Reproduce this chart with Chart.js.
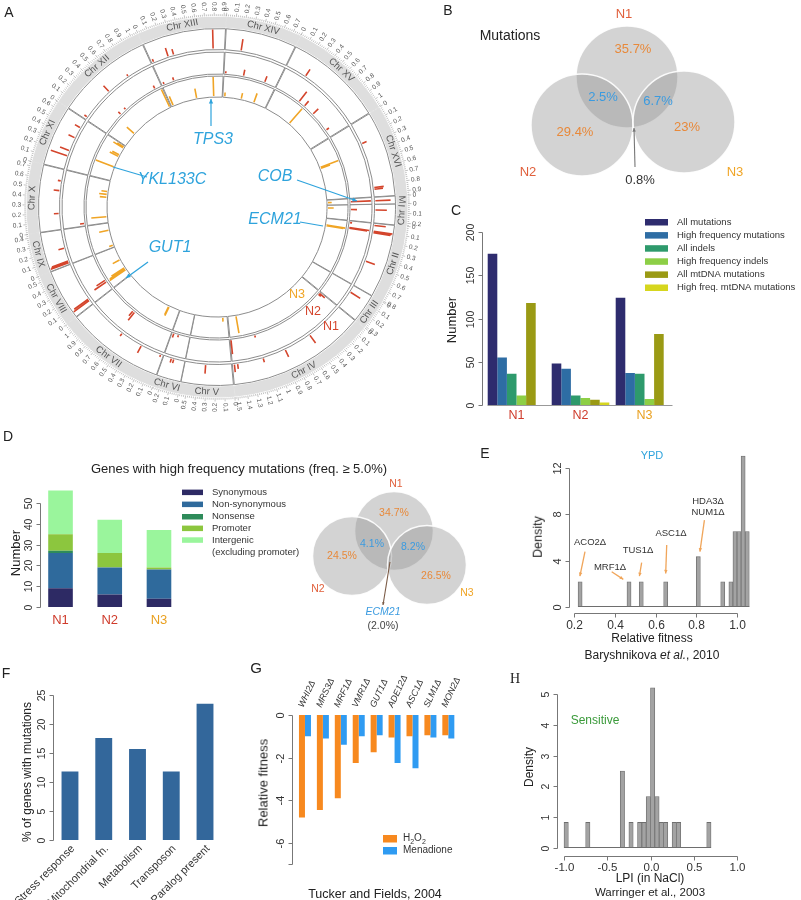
<!DOCTYPE html>
<html>
<head>
<meta charset="utf-8">
<script src="https://cdn.jsdelivr.net/npm/chart.js@4.4.1/dist/chart.umd.min.js"></script>
<style>
  html, body { margin: 0; padding: 0; background: #fff; }
  #fig { position: relative; width: 801px; height: 900px; overflow: hidden;
         font-family: "Liberation Sans", Arial, Helvetica, sans-serif; color: #222; }
  #fig canvas { position: absolute; }
  .t { position: absolute; white-space: nowrap; line-height: 1; transform: translate(-50%, -50%); }
</style>
</head>
<body>
<div id="fig"></div>
<script>
// ---------- panel A: circos ----------
const chrNames = ['I','II','III','IV','V','VI','VII','VIII','IX','X','XI','XII','XIII','XIV','XV','XVI','M'];
const chrLengthsMb = [0.230, 0.813, 0.317, 1.532, 0.577, 0.270, 1.091, 0.563, 0.440, 0.746, 0.667, 1.078, 0.924, 0.784, 1.091, 0.948, 0.086];

// [chromosome, position (Mb), allele frequency]
const n1Spikes = [
  ['I',0.07,0.6], ['II',0.03,0.6], ['II',0.10,1.0], ['II',0.11,0.95], ['II',0.12,0.9], ['II',0.48,0.5],
  ['III',0.09,0.6], ['IV',0.50,0.5], ['IV',0.85,0.4], ['IV',1.14,0.2], ['IV',1.46,0.25], ['IV',1.50,0.4],
  ['V',0.32,0.45], ['VI',0.14,0.2], ['VI',0.17,0.2], ['VII',0.04,0.1], ['VII',0.30,0.4], ['VII',0.58,0.15],
  ['VIII',0.06,1.0], ['VIII',0.08,0.9], ['IX',0.025,1.0], ['IX',0.035,0.95], ['IX',0.045,0.9], ['IX',0.21,0.3],
  ['X',0.20,0.25], ['X',0.48,0.3], ['X',0.60,0.15], ['XI',0.17,0.9], ['XI',0.24,0.5], ['XI',0.41,0.35],
  ['XI',0.55,0.3], ['XII',0.04,0.15], ['XII',0.45,0.4], ['XII',0.75,0.1], ['XIII',0.03,0.15], ['XIII',0.22,0.45],
  ['XIII',0.29,0.3], ['XIII',0.78,1.0], ['XIV',0.20,0.6], ['XV',0.27,0.4], ['XVI',0.27,0.25], ['XVI',0.83,0.5],
  ['XVI',0.85,0.45], ['M',0.043,0.8]
];
const n2Spikes = [
  ['I',0.07,0.3], ['II',0.03,0.1], ['II',0.10,1.0], ['II',0.11,0.9], ['IV',0.03,0.35], ['IV',0.05,0.15],
  ['IV',1.16,0.1], ['IV',1.51,0.7], ['VI',0.17,0.1], ['VI',0.24,0.2], ['VII',0.62,0.5], ['VII',0.65,0.3],
  ['VIII',0.13,0.7], ['VIII',0.16,0.5], ['X',0.04,0.2], ['XII',0.35,0.15], ['XII',0.45,0.1], ['XII',0.97,0.15],
  ['XIII',0.04,0.1], ['XIII',0.19,0.15], ['XIV',0.03,0.1], ['XIV',0.29,0.3], ['XIV',0.61,0.3], ['XV',0.40,0.6],
  ['XV',0.50,0.3], ['XV',0.67,0.35], ['XV',0.97,0.15], ['M',0.043,1.0]
];
const n3Spikes = [
  ['I',0.05,0.3], ['II',0.12,1.0], ['II',0.13,0.9], ['IV',1.38,0.9], ['V',0.08,0.2], ['VII',0.20,0.5],
  ['VII',0.21,0.45], ['VIII',0.12,1.0], ['VIII',0.14,0.95], ['VIII',0.16,0.8], ['VIII',0.32,0.4], ['IX',0.04,0.2],
  ['IX',0.31,0.5], ['X',0.11,0.8], ['X',0.45,0.35], ['X',0.50,0.4], ['X',0.55,0.3], ['XI',0.25,1.0],
  ['XI',0.45,0.5], ['XI',0.48,0.4], ['XI',0.62,0.6], ['XI',0.64,0.4], ['XII',0.27,0.5], ['XII',1.05,1.0],
  ['XIII',0.04,0.5], ['XIII',0.47,0.5], ['XIII',0.77,1.0], ['XIV',0.04,0.2], ['XIV',0.33,0.3], ['XIV',0.56,0.5],
  ['XV',0.50,1.0], ['XVI',0.36,1.0], ['XVI',0.38,0.5], ['M',0.043,0.2]
];

// ---------- panel B / D venn labels ----------
const vennMutationPct = ['35.7%', '29.4%', '23%', '2.5%', '6.7%', '0.8%'];
const vennGenePct = ['34.7%', '24.5%', '26.5%', '4.1%', '8.2%', '(2.0%)'];

// ---------- panel C ----------
const strains = ['N1', 'N2', 'N3'];
const allMutations = [175, 48, 124];
const highFreqMutations = [55, 42, 37];
const allIndels = [36, 11, 36];
const highFreqIndels = [11, 8, 7];
const allMtDNA = [118, 6, 82];
const highFreqMtDNA = [0, 3, 0];
const numberTicksC = [0, 50, 100, 150, 200];

// ---------- panel D ----------
const synonymous = [9, 6, 4];
const nonSynonymous = [17, 13, 14];
const nonsense = [1, 0, 0];
const promoter = [8, 7, 1];
const intergenic = [21, 16, 18];
const numberTicksD = [0, 10, 20, 30, 40, 50];

// ---------- panel E ----------
const fitnessBinMid = [0.23,0.25,0.27,0.29,0.31,0.33,0.35,0.37,0.39,0.41,0.43,0.45,0.47,0.49,0.51,0.53,0.55,0.57,0.59,0.61,0.63,
  0.65,0.67,0.69,0.71,0.73,0.75,0.77,0.79,0.81,0.83,0.85,0.87,0.89,0.91,0.93,0.95,0.97,0.99,1.01,1.03,1.05];
const fitnessDensity = [2.17,0,0,0,0,0,0,0,0,0,0,0, 2.17,0,0,2.17,0,0,0,0,0, 2.17,0,0,0,0,0,0,0,
  4.35,0,0,0,0,0, 2.17,0,2.17,6.52,6.52,13.04,6.52];
const fitnessTicksE = [0.2, 0.4, 0.6, 0.8, 1.0];
const densityTicksE = [0, 4, 8, 12];

// ---------- panel F ----------
const functionCats = ['Stress response', 'Mitochondrial fn.', 'Metabolism', 'Transposon', 'Paralog present'];
const pctWithMutations = [11.8, 17.6, 15.7, 11.8, 23.5];
const pctTicks = [0, 5, 10, 15, 20, 25];

// ---------- panel G ----------
const deletions = ['WHI2Δ','MRS3Δ','MRF1Δ','VMR1Δ','GUT1Δ','ADE12Δ','ASC1Δ','SLM1Δ','MON2Δ'];
const h2o2Fitness = [-4.8, -4.45, -3.9, -2.25, -1.75, -1.05, -1.0, -0.95, -0.95];
const menadioneFitness = [-1.0, -1.1, -1.4, -1.0, -0.95, -2.25, -2.5, -1.05, -1.1];
const fitnessTicksG = [0, -2, -4, -6, -7];
const fitnessTickLabelsG = ['0', '-2', '-4', '-6', ''];

// ---------- panel H ----------
const lpiBinMid = [-0.975,-0.925,-0.875,-0.825,-0.775,-0.725,-0.675,-0.625,-0.575,-0.525,-0.475,-0.425,-0.375,-0.325,
  -0.275,-0.225,-0.175,-0.125,-0.075,-0.025,0.025,0.075,0.125,0.175,0.225,0.275,0.325,0.375,0.425,0.475,0.525,0.575,0.625,0.675];
const lpiDensity = [0.83,0,0,0,0,0.83,0,0,0,0,0,0,0,2.5,0,0.83,0,0.83,0.83,1.67,5.2,1.67,0.83,0.83,0,0.83,0.83,0,0,0,0,0,0,0.83];
const lpiTicks = [-1, -0.5, 0, 0.5, 1];
const densityTicksH = [0, 1, 2, 3, 4, 5];

// ---------------------------------------------------------------
const FONT = '"Liberation Sans", Arial, Helvetica, sans-serif';
const RED = '#d4452c', ORANGE = '#f0a526', BLUE = '#2ea3dc';
const strainColors = ['#cf3b2b', '#cf3b2b', '#e9a020'];
const fig = document.getElementById('fig');

function makeCanvas(left, top, w, h) {
  const c = document.createElement('canvas');
  c.width = w; c.height = h;
  c.style.left = left + 'px'; c.style.top = top + 'px';
  c.style.width = w + 'px'; c.style.height = h + 'px';
  fig.appendChild(c);
  return c;
}

function addText(html, x, y, size, o = {}) {
  const d = document.createElement('div');
  d.className = 't';
  d.innerHTML = html;
  d.style.left = x + 'px'; d.style.top = y + 'px';
  d.style.fontSize = size + 'px';
  if (o.color) d.style.color = o.color;
  if (o.italic) d.style.fontStyle = 'italic';
  if (o.serif) d.style.fontFamily = '"Liberation Serif", "DejaVu Serif", serif';
  if (o.rot) d.style.transform = 'translate(-50%, -50%) rotate(-90deg)';
  fig.appendChild(d);
}

function txt(ctx, s, x, y, font, color, align = 'center', base = 'middle', rot = 0) {
  ctx.save();
  ctx.translate(x, y);
  if (rot) ctx.rotate(rot);
  ctx.font = font; ctx.fillStyle = color;
  ctx.textAlign = align; ctx.textBaseline = base;
  ctx.fillText(s, 0, 0);
  ctx.restore();
}

function arrow(ctx, x1, y1, x2, y2, color, lw, head) {
  ctx.save();
  ctx.strokeStyle = color; ctx.fillStyle = color; ctx.lineWidth = lw;
  ctx.beginPath(); ctx.moveTo(x1, y1); ctx.lineTo(x2, y2); ctx.stroke();
  if (head) {
    const a = Math.atan2(y2 - y1, x2 - x1);
    ctx.beginPath();
    ctx.moveTo(x2, y2);
    ctx.lineTo(x2 - head * Math.cos(a - 0.45), y2 - head * Math.sin(a - 0.45));
    ctx.lineTo(x2 - head * Math.cos(a + 0.45), y2 - head * Math.sin(a + 0.45));
    ctx.closePath(); ctx.fill();
  }
  ctx.restore();
}

// R style axes, drawn from the chart's own scales
function yAxisR(chart, x, ticks, labels, size = 10.5) {
  const ctx = chart.ctx, sc = chart.scales.y;
  const ys = ticks.map(v => Math.round(sc.getPixelForValue(v)) + 0.5);
  const xx = Math.round(x) + 0.5;
  ctx.save();
  ctx.strokeStyle = '#777'; ctx.lineWidth = 1;
  ctx.beginPath();
  ctx.moveTo(xx, Math.min(...ys)); ctx.lineTo(xx, Math.max(...ys));
  ys.forEach(y => { ctx.moveTo(xx, y); ctx.lineTo(xx - 4, y); });
  ctx.stroke();
  ys.forEach((y, i) => txt(ctx, labels[i], xx - 6, y, size + 'px ' + FONT, '#333', 'center', 'bottom', -Math.PI / 2));
  ctx.restore();
}

function xAxisR(chart, y, ticks, labels, size = 11.5) {
  const ctx = chart.ctx, sc = chart.scales.x;
  const xs = ticks.map(v => Math.round(sc.getPixelForValue(v)) + 0.5);
  const yy = Math.round(y) + 0.5;
  ctx.save();
  ctx.strokeStyle = '#777'; ctx.lineWidth = 1;
  ctx.beginPath();
  ctx.moveTo(Math.min(...xs), yy); ctx.lineTo(Math.max(...xs), yy);
  xs.forEach(x => { ctx.moveTo(x, yy); ctx.lineTo(x, yy + 4); });
  ctx.stroke();
  xs.forEach((x, i) => txt(ctx, labels[i], x, yy + 6, size + 'px ' + FONT, '#333', 'center', 'top'));
  ctx.restore();
}

function histBaseline(chart, mids) {
  const ctx = chart.ctx, sx = chart.scales.x, sy = chart.scales.y;
  const half = (mids[1] - mids[0]) / 2;
  const y = Math.round(sy.getPixelForValue(0)) - 0.5;
  ctx.save(); ctx.strokeStyle = '#6e6e6e'; ctx.lineWidth = 1;
  ctx.beginPath();
  ctx.moveTo(sx.getPixelForValue(mids[0] - half), y);
  ctx.lineTo(sx.getPixelForValue(mids[mids.length - 1] + half), y);
  ctx.stroke(); ctx.restore();
}

const common = {
  responsive: false, animation: false, devicePixelRatio: 1, events: [],
};
const pad = p => ({ autoPadding: false, padding: p });
const noLegend = { legend: { display: false }, tooltip: { enabled: false } };

// ================= A: circos =================
const SPACING = 3;
const ringSpec = [
  { w: 10, fill: '#dedede', line: '#dedede' },
  { w: 1.5, fill: 'rgba(0,0,0,0)', line: 'rgba(0,0,0,0)' },
  { w: 21, fill: '#ffffff', line: '#8c8c8c' },
  { w: 2.5, fill: 'rgba(0,0,0,0)', line: 'rgba(0,0,0,0)' },
  { w: 22, fill: '#ffffff', line: '#8c8c8c' },
  { w: 2, fill: 'rgba(0,0,0,0)', line: 'rgba(0,0,0,0)' },
  { w: 21, fill: '#ffffff', line: '#8c8c8c' }
];

const circosPlugin = {
  id: 'circos',
  afterDatasetsDraw(chart) {
    const ctx = chart.ctx;
    const sp = SPACING / 2;
    const band = chart.getDatasetMeta(0).data;
    const cx = band[0].x, cy = band[0].y;
    ctx.save();
    band.forEach((arc, i) => {
      const len = chrLengthsMb[i], a0 = arc.startAngle, a1 = arc.endAngle;
      const R = arc.outerRadius + sp;
      const ang = mb => a0 + (mb / len) * (a1 - a0);
      ctx.strokeStyle = '#9a9a9a'; ctx.lineWidth = 0.6;
      ctx.beginPath();
      for (let k = 0; k * 0.02 <= len + 1e-9; k++) {
        const a = ang(k * 0.02), l = (k % 5 === 0) ? 3.5 : 1.8;
        ctx.moveTo(cx + (R + 1) * Math.cos(a), cy + (R + 1) * Math.sin(a));
        ctx.lineTo(cx + (R + 1 + l) * Math.cos(a), cy + (R + 1 + l) * Math.sin(a));
      }
      ctx.stroke();
      for (let k = 0; k * 0.1 <= len + 1e-9; k++) {
        const a = ang(k * 0.1), r = R + 6;
        const right = Math.cos(a) >= 0;
        txt(ctx, String(+(k * 0.1).toFixed(1)), cx + r * Math.cos(a), cy + r * Math.sin(a),
            '6.5px ' + FONT, '#555', right ? 'left' : 'right', 'middle', right ? a : a + Math.PI);
      }
      const m = (a0 + a1) / 2, rm = (arc.innerRadius + arc.outerRadius) / 2 + sp;
      const name = chrNames[i] === 'M' ? 'M' : 'Chr ' + chrNames[i];
      txt(ctx, name, cx + rm * Math.cos(m), cy + rm * Math.sin(m), '9.5px ' + FONT, '#555', 'center', 'middle',
          Math.sin(m) > 0 ? m - Math.PI / 2 : m + Math.PI / 2);
    });

    [[2, n1Spikes, RED], [4, n2Spikes, RED], [6, n3Spikes, ORANGE]].forEach(([di, list, col]) => {
      const arcs = chart.getDatasetMeta(di).data;
      ctx.strokeStyle = col; ctx.lineWidth = 1.6;
      ctx.beginPath();
      list.forEach(([chr, pos, f]) => {
        const i = chrNames.indexOf(chr), arc = arcs[i];
        const a = arc.startAngle + (pos / chrLengthsMb[i]) * (arc.endAngle - arc.startAngle);
        const r0 = arc.innerRadius + sp + 1;
        const r1 = r0 + f * (arc.outerRadius - arc.innerRadius - 2);
        ctx.moveTo(cx + r0 * Math.cos(a), cy + r0 * Math.sin(a));
        ctx.lineTo(cx + r1 * Math.cos(a), cy + r1 * Math.sin(a));
      });
      ctx.stroke();
    });

    // gene call-outs
    const notes = [
      ['TPS3', -4, -67, [-6, -81, -6, -108], 5],
      ['YKL133C', -45, -27, [-70, -30, -104, -40], 0],
      ['COB', 58, -30, [80, -27, 140, -6], 5],
      ['ECM21', 58, 13, [83, 15, 106, 19], 0],
      ['GUT1', -47, 41, [-69, 55, -91, 71], 5]
    ];
    notes.forEach(([s, dx, dy, l, h]) => {
      txt(ctx, s, cx + dx, cy + dy, 'italic 16px ' + FONT, BLUE);
      arrow(ctx, cx + l[0], cy + l[1], cx + l[2], cy + l[3], BLUE, 1.2, h);
    });
    txt(ctx, 'N3', cx + 80, cy + 88, '12.5px ' + FONT, ORANGE);
    txt(ctx, 'N2', cx + 96, cy + 105, '12.5px ' + FONT, RED);
    txt(ctx, 'N1', cx + 114, cy + 120, '12.5px ' + FONT, RED);
    ctx.restore();
  }
};

new Chart(makeCanvas(0, 0, 460, 420), {
  type: 'doughnut',
  data: {
    labels: chrNames,
    datasets: ringSpec.map(r => ({
      data: chrLengthsMb, weight: r.w, backgroundColor: r.fill, borderColor: r.line,
      borderWidth: 1, spacing: SPACING, hoverOffset: 0, offset: 0
    }))
  },
  options: {
    ...common,
    rotation: 89,
    radius: 188.5,
    cutout: '57.56%',
    layout: pad({ left: 0, top: 0, right: 26, bottom: 6 }),
    plugins: noLegend
  },
  plugins: [circosPlugin]
});

// ================= venn helpers =================
function vennChart(left, top, w, h, circles, r, items) {
  new Chart(makeCanvas(left, top, w, h), {
    type: 'bubble',
    data: {
      datasets: [{
        data: circles.map(([x, y]) => ({ x, y, r })),
        backgroundColor: 'rgba(150,150,150,0.42)',
        borderColor: 'rgba(255,255,255,0.9)', borderWidth: 1.5, clip: false
      }]
    },
    options: {
      ...common,
      layout: pad(0),
      scales: {
        x: { display: false, min: 0, max: w },
        y: { display: false, min: 0, max: h, reverse: true }
      },
      plugins: noLegend
    },
    plugins: [{
      id: 'vennText',
      afterDatasetsDraw(chart) {
        const ctx = chart.ctx, sx = chart.scales.x, sy = chart.scales.y;
        items.forEach(it => {
          if (it.arrow) {
            arrow(ctx, sx.getPixelForValue(it.arrow[0]), sy.getPixelForValue(it.arrow[1]),
                  sx.getPixelForValue(it.arrow[2]), sy.getPixelForValue(it.arrow[3]), it.color, 1.1, it.head);
          } else {
            txt(ctx, it.s, sx.getPixelForValue(it.x), sy.getPixelForValue(it.y), it.font, it.color);
          }
        });
      }
    }]
  });
}

const VORANGE = '#e8893a', VBLUE = '#3b9be0';
// ================= B =================
vennChart(460, 0, 341, 200, [[167, 77], [122, 125], [224, 122]], 51, [
  { s: 'N1', x: 164, y: 14, font: '13px ' + FONT, color: '#e0603c' },
  { s: 'N2', x: 68, y: 172, font: '13px ' + FONT, color: '#e0603c' },
  { s: 'N3', x: 275, y: 172, font: '13px ' + FONT, color: '#f0a526' },
  { s: vennMutationPct[0], x: 173, y: 49, font: '13px ' + FONT, color: VORANGE },
  { s: vennMutationPct[1], x: 115, y: 132, font: '13px ' + FONT, color: VORANGE },
  { s: vennMutationPct[2], x: 227, y: 127, font: '13px ' + FONT, color: VORANGE },
  { s: vennMutationPct[3], x: 143, y: 97, font: '13px ' + FONT, color: VBLUE },
  { s: vennMutationPct[4], x: 198, y: 101, font: '13px ' + FONT, color: VBLUE },
  { s: vennMutationPct[5], x: 180, y: 180, font: '13px ' + FONT, color: '#333' },
  { arrow: [175, 167, 174, 128], color: '#777', head: 4 }
]);

// ================= C =================
const cSeries = [
  ['All mutations', allMutations, '#2e2c6e'],
  ['High frequency mutations', highFreqMutations, '#2e6da4'],
  ['All indels', allIndels, '#2e9a6c'],
  ['High frequency indels', highFreqIndels, '#8dcf46'],
  ['All mtDNA mutations', allMtDNA, '#9a9a14'],
  ['High freq. mtDNA mutations', highFreqMtDNA, '#d6d61e']
];
new Chart(makeCanvas(440, 200, 361, 230), {
  type: 'bar',
  data: {
    labels: strains,
    datasets: cSeries.map(([label, data, color]) => ({ label, data, backgroundColor: color }))
  },
  options: {
    ...common,
    layout: pad({ left: 44.5, right: 124.5, top: 32, bottom: 25 }),
    datasets: { bar: { categoryPercentage: 0.9, barPercentage: 1, borderWidth: 0 } },
    scales: { x: { display: false, offset: true }, y: { display: false, min: 0, max: 200 } },
    plugins: noLegend
  },
  plugins: [{
    id: 'cAxes',
    afterDraw(chart) {
      const ctx = chart.ctx, ca = chart.chartArea, sx = chart.scales.x, sy = chart.scales.y;
      yAxisR(chart, ca.left - 2.5, numberTicksC, numberTicksC.map(String), 10.5);
      const y0 = Math.round(sy.getPixelForValue(0)) + 0.5;
      ctx.save(); ctx.strokeStyle = '#999'; ctx.beginPath();
      ctx.moveTo(ca.left + 3, y0); ctx.lineTo(ca.right - 4, y0); ctx.stroke(); ctx.restore();
      strains.forEach((s, i) => txt(ctx, s, sx.getPixelForValue(i), y0 + 10, '12.5px ' + FONT, strainColors[i]));
      chart.data.datasets.forEach((ds, i) => {
        const yy = 22 + i * 13.1;
        ctx.fillStyle = ds.backgroundColor;
        ctx.fillRect(205, yy - 3, 23, 6.5);
        txt(ctx, ds.label, 237, yy, '9.5px ' + FONT, '#333', 'left');
      });
    }
  }]
});

// ================= D bars =================
const dSeries = [
  ['Synonymous', synonymous, '#2d2a64'],
  ['Non-synonymous', nonSynonymous, '#2f6a9c'],
  ['Nonsense', nonsense, '#2e8b5a'],
  ['Promoter', promoter, '#8cc63e'],
  ['Intergenic (excluding promoter)', intergenic, '#9af59c']
];
new Chart(makeCanvas(0, 420, 300, 215), {
  type: 'bar',
  data: {
    labels: strains,
    datasets: dSeries.map(([label, data, color]) => ({ label, data, backgroundColor: color }))
  },
  options: {
    ...common,
    layout: pad({ left: 35.9, right: 116.4, top: 62.2, bottom: 28 }),
    datasets: { bar: { categoryPercentage: 1, barPercentage: 0.5, borderWidth: 0 } },
    scales: {
      x: { display: false, offset: true, stacked: true },
      y: { display: false, min: 0, max: 60, stacked: true }
    },
    plugins: noLegend
  },
  plugins: [{
    id: 'dAxes',
    afterDraw(chart) {
      const ctx = chart.ctx, ca = chart.chartArea, sx = chart.scales.x, sy = chart.scales.y;
      yAxisR(chart, ca.left + 4, numberTicksD, numberTicksD.map(String), 10.5);
      const y0 = sy.getPixelForValue(0);
      strains.forEach((s, i) => txt(ctx, s, sx.getPixelForValue(i), y0 + 13, '13px ' + FONT, strainColors[i]));
      const rows = [72.3, 84.3, 96.7, 108.3, 120];
      chart.data.datasets.forEach((ds, i) => {
        ctx.fillStyle = ds.backgroundColor;
        ctx.fillRect(182, rows[i] - 2.7, 21, 5.5);
        const parts = ds.label.split(' (');
        txt(ctx, parts[0], 212, rows[i], '9.5px ' + FONT, '#333', 'left');
        if (parts[1]) txt(ctx, '(' + parts[1], 212, rows[i] + 12.7, '9.5px ' + FONT, '#333', 'left');
      });
    }
  }]
});

// ================= D venn =================
vennChart(300, 470, 180, 165, [[94, 61], [52, 86], [127, 95]], 39.5, [
  { s: 'N1', x: 96, y: 14, font: '10.5px ' + FONT, color: '#e0603c' },
  { s: 'N2', x: 18, y: 119, font: '10.5px ' + FONT, color: '#e0603c' },
  { s: 'N3', x: 167, y: 123, font: '10.5px ' + FONT, color: '#f0a526' },
  { s: vennGenePct[0], x: 94, y: 43, font: '10.5px ' + FONT, color: VORANGE },
  { s: vennGenePct[1], x: 42, y: 86, font: '10.5px ' + FONT, color: VORANGE },
  { s: vennGenePct[2], x: 136, y: 106, font: '10.5px ' + FONT, color: VORANGE },
  { s: vennGenePct[3], x: 72, y: 74, font: '10.5px ' + FONT, color: VBLUE },
  { s: vennGenePct[4], x: 113, y: 77, font: '10.5px ' + FONT, color: VBLUE },
  { s: 'ECM21', x: 83, y: 142, font: 'italic 10.5px ' + FONT, color: VBLUE },
  { s: vennGenePct[5], x: 83, y: 156, font: '10.5px ' + FONT, color: '#444' },
  { arrow: [90, 92, 83, 135], color: '#7a5a45', head: 3 }
]);

// ================= E =================
const histStyle = { backgroundColor: '#a3a3a3', borderColor: '#6e6e6e', borderWidth: 0.8 };
const fitnessCallouts = [
  { label: ['ACO2Δ'], at: [0.279, 5.6], line: [0.254, 4.78, 0.229, 2.66] },
  { label: ['MRF1Δ'], at: [0.377, 3.45], line: [0.385, 3.05, 0.442, 2.39] },
  { label: ['TUS1Δ'], at: [0.514, 4.9], line: [0.532, 3.83, 0.521, 2.66] },
  { label: ['ASC1Δ'], at: [0.676, 6.4], line: [0.655, 5.35, 0.650, 2.9] },
  { label: ['HDA3Δ', 'NUM1Δ'], at: [0.858, 9.15], line: [0.840, 7.5, 0.818, 4.78] }
];
new Chart(makeCanvas(500, 430, 301, 225), {
  type: 'bar',
  data: { datasets: [{ data: fitnessBinMid.map((x, i) => ({ x, y: fitnessDensity[i] })), ...histStyle }] },
  options: {
    ...common,
    layout: pad({ left: 63.8, right: 43.6, top: 15, bottom: 48 }),
    datasets: { bar: { categoryPercentage: 1, barPercentage: 1 } },
    scales: {
      x: { type: 'linear', display: false, min: 0.15, max: 1.1, offset: false },
      y: { display: false, min: 0, max: 14 }
    },
    plugins: noLegend
  },
  plugins: [{
    id: 'eAxes',
    afterDraw(chart) {
      const ctx = chart.ctx, sx = chart.scales.x, sy = chart.scales.y;
      histBaseline(chart, fitnessBinMid);
      yAxisR(chart, sx.getPixelForValue(0.2) - 5, densityTicksE, densityTicksE.map(String), 11);
      xAxisR(chart, sy.getPixelForValue(0) + 6, fitnessTicksE, fitnessTicksE.map(v => v.toFixed(1)), 12);
      fitnessCallouts.forEach(c => {
        c.label.forEach((s, k) => txt(ctx, s, sx.getPixelForValue(c.at[0]), sy.getPixelForValue(c.at[1]) + k * 11,
          '9.5px ' + FONT, '#333'));
        arrow(ctx, sx.getPixelForValue(c.line[0]), sy.getPixelForValue(c.line[1]),
              sx.getPixelForValue(c.line[2]), sy.getPixelForValue(c.line[3]), '#f0a55a', 1.3, 4);
      });
    }
  }]
});

// ================= F =================
new Chart(makeCanvas(0, 650, 240, 250), {
  type: 'bar',
  data: { labels: functionCats, datasets: [{ data: pctWithMutations, backgroundColor: '#33679b' }] },
  options: {
    ...common,
    layout: pad({ left: 53.1, right: 18.1, top: 45, bottom: 60 }),
    datasets: { bar: { categoryPercentage: 1, barPercentage: 0.5, borderWidth: 0 } },
    scales: { x: { display: false, offset: true }, y: { display: false, min: 0, max: 25 } },
    plugins: noLegend
  },
  plugins: [{
    id: 'fAxes',
    afterDraw(chart) {
      const ctx = chart.ctx, ca = chart.chartArea, sx = chart.scales.x, sy = chart.scales.y;
      yAxisR(chart, ca.left, pctTicks, pctTicks.map(String), 10.5);
      const y0 = sy.getPixelForValue(0);
      functionCats.forEach((s, i) => txt(ctx, s, sx.getPixelForValue(i) + 3, y0 + 7, '11px ' + FONT, '#333',
        'right', 'middle', -Math.PI / 4));
    }
  }]
});

// ================= G =================
new Chart(makeCanvas(240, 650, 270, 250), {
  type: 'bar',
  data: {
    labels: deletions,
    datasets: [
      { label: 'H2O2', data: h2o2Fitness, backgroundColor: '#f7891f' },
      { label: 'Menadione', data: menadioneFitness, backgroundColor: '#2f9bf2' }
    ]
  },
  options: {
    ...common,
    layout: pad({ left: 56, right: 52.7, top: 65, bottom: 35.7 }),
    datasets: { bar: { categoryPercentage: 0.67, barPercentage: 1, borderWidth: 0 } },
    scales: { x: { display: false, offset: true }, y: { display: false, min: -7, max: 0 } },
    plugins: noLegend
  },
  plugins: [{
    id: 'gAxes',
    afterDraw(chart) {
      const ctx = chart.ctx, ca = chart.chartArea, sx = chart.scales.x, sy = chart.scales.y;
      yAxisR(chart, ca.left - 4, fitnessTicksG, fitnessTickLabelsG, 11);
      const y0 = sy.getPixelForValue(0);
      deletions.forEach((s, i) => txt(ctx, s, sx.getPixelForValue(i) - 4, y0 - 8, 'italic 9px ' + FONT, '#333',
        'left', 'middle', -1.13));
      // legend
      const f = '10px ' + FONT;
      ctx.fillStyle = chart.data.datasets[0].backgroundColor; ctx.fillRect(143, 185, 14, 7.5);
      ctx.fillStyle = chart.data.datasets[1].backgroundColor; ctx.fillRect(143, 197, 14, 7.5);
      let x = 163;
      [['H', 0], ['2', 1], ['O', 0], ['2', 1]].forEach(([s, sub]) => {
        ctx.font = (sub ? '7px ' : '10px ') + FONT;
        txt(ctx, s, x, sub ? 192 : 188.5, ctx.font, '#333', 'left');
        x += ctx.measureText(s).width;
      });
      txt(ctx, chart.data.datasets[1].label, 163, 200.5, f, '#333', 'left');
    }
  }]
});

// ================= H =================
new Chart(makeCanvas(510, 650, 291, 250), {
  type: 'bar',
  data: { datasets: [{ data: lpiBinMid.map((x, i) => ({ x, y: lpiDensity[i] })), ...histStyle }] },
  options: {
    ...common,
    layout: pad({ left: 49.7, right: 59.7, top: 31.7, bottom: 52 }),
    datasets: { bar: { categoryPercentage: 1, barPercentage: 1 } },
    scales: {
      x: { type: 'linear', display: false, min: -1.05, max: 1.05, offset: false },
      y: { display: false, min: 0, max: 5.4 }
    },
    plugins: noLegend
  },
  plugins: [{
    id: 'hAxes',
    afterDraw(chart) {
      const sx = chart.scales.x, sy = chart.scales.y;
      histBaseline(chart, lpiBinMid);
      yAxisR(chart, sx.getPixelForValue(-1) - 7, densityTicksH, densityTicksH.map(String), 10.5);
      xAxisR(chart, sy.getPixelForValue(0) + 8, lpiTicks, lpiTicks.map(v => v.toFixed(1)), 11.5);
    }
  }]
});

// ================= free text =================
addText('A', 9, 12, 14);
addText('B', 448, 10, 14);
addText('C', 456, 210, 14);
addText('D', 8, 436, 14);
addText('E', 485, 453, 14);
addText('F', 6, 673, 14);
addText('G', 256, 667, 15);
addText('H', 515, 679, 14, { serif: true });
addText('Mutations', 510, 35, 14);
addText('Number', 451, 320, 13, { rot: true });
addText('Genes with high frequency mutations (freq. ≥ 5.0%)', 239, 468, 13);
addText('Number', 15, 553, 13, { rot: true });
addText('YPD', 652, 455, 11, { color: BLUE });
addText('Density', 538, 537, 12.5, { rot: true });
addText('Relative fitness', 652, 638, 12);
addText('Baryshnikova <i>et al.</i>, 2010', 652, 655, 12);
addText('% of genes with mutations', 27, 772, 12, { rot: true });
addText('Relative fitness', 263, 783, 13, { rot: true });
addText('Tucker and Fields, 2004', 375, 894, 12.5);
addText('Sensitive', 595, 720, 12, { color: '#3a9a3a' });
addText('Density', 529, 767, 12, { rot: true });
addText('LPI (in NaCl)', 650, 878, 12);
addText('Warringer et al., 2003', 650, 893, 11.5);
</script>
</body>
</html>
